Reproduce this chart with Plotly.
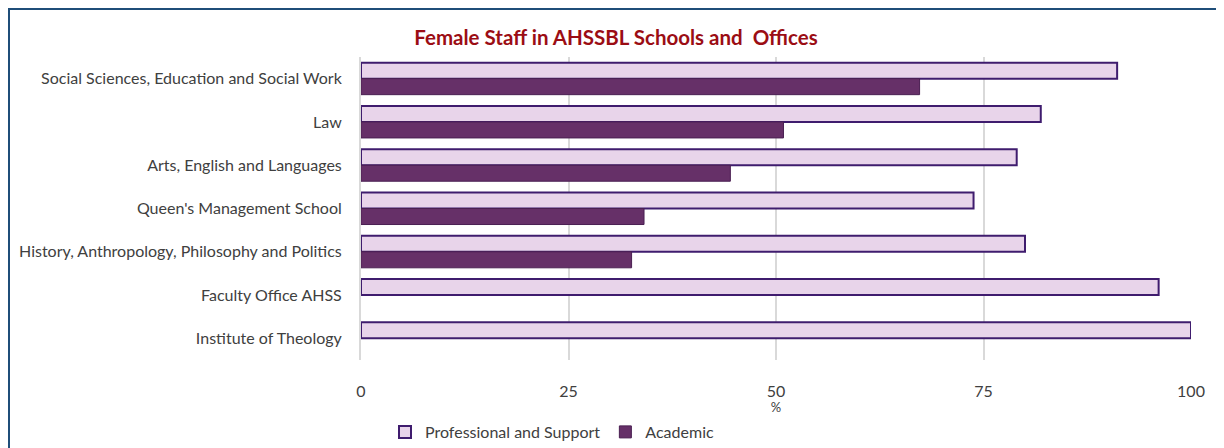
import plotly.graph_objects as go

# Dados
categorias = [
    'Social Sciences, Education and Social Work',
    'Law',
    'Arts, English and Languages',
    "Queen's Management School",
    'History, Anthropology, Philosophy and Politics',
    'Faculty Office AHSS',
    'Institute of Theology',
]
profissional = [91.1, 81.9, 79.0, 73.8, 80.0, 96.1, 100.0]
academico = [67.3, 50.9, 44.5, 34.1, 32.6, None, None]
ticks_x = [0, 25, 50, 75, 100]

FONTE = 'Lato'
OFF = 8  # margem padrão do body na página
W, H = 1224 - 2 * OFF, 448 - OFF
L = 361 - OFF
R = W - (1191 - OFF)
T = 57 - OFF
B = H - (360 - OFF)
pw, ph = W - L - R, H - T - B


def px_x(p):
    return (p - OFF - L) / pw


def px_y(p):
    return (H - B - (p - OFF)) / ph


fig = go.Figure()

fig.add_trace(go.Bar(
    y=categorias,
    x=profissional,
    orientation='h',
    name='Professional and Support',
    marker=dict(color='#E8D4EA', line=dict(color='#3F1C6E', width=2)),
))

fig.add_trace(go.Bar(
    y=categorias,
    x=academico,
    orientation='h',
    name='Academic',
    marker=dict(color='#663068', line=dict(color='#4A1F52', width=1)),
))

fig.update_layout(
    width=W, height=H,
    margin=dict(l=L, r=R, t=T, b=B, autoexpand=False),
    barmode='group',
    bargap=0.26,
    bargroupgap=0,
    plot_bgcolor='white',
    paper_bgcolor='white',
    font=dict(family=FONTE, size=16, color='#404040'),
    title=dict(
        text='<b>Female Staff in AHSSBL Schools and  Offices</b>',
        font=dict(family=FONTE, size=20.5, color='#9B0D14'),
        x=px_x(616), xref='paper', xanchor='center',
        y=1 - (38 - OFF) / H, yanchor='middle',
    ),
    legend=dict(
        orientation='h',
        x=px_x(385), xanchor='left',
        yref='container',
        y=1 - (432 - OFF) / H, yanchor='middle',
        font=dict(size=16, color='#404040'),
        traceorder='normal',
        itemwidth=30,
    ),
    shapes=[dict(
        type='rect', xref='paper', yref='paper',
        x0=px_x(9), x1=px_x(1221), y0=px_y(452), y1=px_y(9),
        line=dict(color='#1F4E79', width=2), layer='below',
    )],
)

fig.update_xaxes(
    range=[0, 100],
    tickvals=ticks_x,
    showgrid=True, gridcolor='#D9D9D9', gridwidth=2,
    zeroline=False,
    ticklabelstandoff=20,
    tickfont=dict(size=16, color='#404040'),
    title=dict(text='%', font=dict(size=13, color='#404040'), standoff=7),
)

fig.update_yaxes(
    autorange='reversed',
    showline=True, linecolor='#D9D9D9', linewidth=2,
    ticklabelstandoff=14,
    tickfont=dict(size=16, color='#404040'),
)

fig.write_html('out.html')
print('Salvo: out.html')
